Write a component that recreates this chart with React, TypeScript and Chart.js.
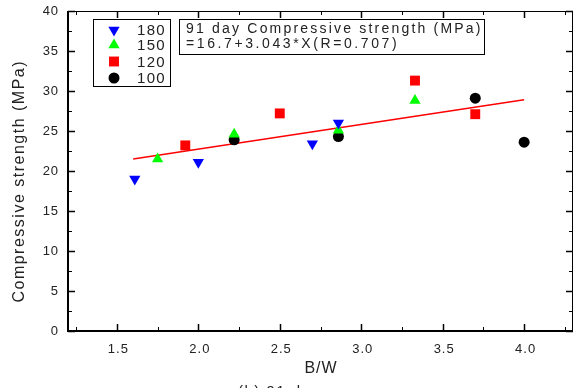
import React, { useEffect, useRef } from "react";
import { Chart, registerables } from "chart.js";

Chart.register(...registerables);

const xTicks = [1.5, 2.0, 2.5, 3.0, 3.5, 4.0];
const yTicks = [0, 5, 10, 15, 20, 25, 30, 35, 40];

const s180x = [1.61, 2.0, 2.7, 2.86];
const s180y = [19.0, 21.1, 23.4, 26.0];
const s150x = [1.75, 2.22, 2.86, 3.33];
const s150y = [21.5, 24.6, 25.1, 28.8];
const s120x = [1.92, 2.5, 3.33, 3.7];
const s120y = [23.2, 27.2, 31.3, 27.1];
const s100x = [2.22, 2.86, 3.7, 4.0];
const s100y = [23.9, 24.3, 29.1, 23.6];
const fitX = [1.6, 4.0];
const fitY = [21.5, 28.9];

const seriesNames = ["180", "150", "120", "100"];
const boxLines = ["91 day Compressive strength (MPa)", "=16.7+3.043*X(R=0.707)"];
const xTitle = "B/W";
const yTitle = "Compressive strength (MPa)";
const caption = "(b) 91 day";

const FONT = "'Liberation Sans', Arial, sans-serif";
const TXT = "#222";

function pts(xs: number[], ys: number[]) {
  return xs.map((x, i) => ({ x, y: ys[i] }));
}

function drawMarker(ctx: CanvasRenderingContext2D, style: string, rot: number, r: number, x: number, y: number, color: string) {
  ctx.save();
  ctx.fillStyle = color;
  ctx.beginPath();
  if (style === "triangle") {
    const inv = rot === 180 ? -1 : 1;
    ctx.moveTo(x, y - inv * r);
    ctx.lineTo(x - r * 0.866, y + inv * r * 0.5);
    ctx.lineTo(x + r * 0.866, y + inv * r * 0.5);
    ctx.closePath();
  } else if (style === "rect") {
    const s = r * Math.SQRT1_2;
    ctx.rect(x - s, y - s, 2 * s, 2 * s);
  } else {
    ctx.arc(x, y, r, 0, Math.PI * 2);
  }
  ctx.fill();
  ctx.restore();
}

function spacedText(ctx: CanvasRenderingContext2D, text: string, x: number, y: number, spacing: number, align: "left" | "right" | "center") {
  (ctx as any).letterSpacing = spacing + "px";
  const w = ctx.measureText(text).width - spacing;
  let x0 = x;
  if (align === "right") x0 = x - w;
  else if (align === "center") x0 = x - w / 2;
  ctx.textAlign = "left";
  ctx.fillText(text, x0, y);
  (ctx as any).letterSpacing = "0px";
}

const decorPlugin = {
  id: "decor",
  afterDraw(chart: any) {
    const ctx: CanvasRenderingContext2D = chart.ctx;
    const { left, right, top, bottom } = chart.chartArea;
    const xs = chart.scales.x;
    const ys = chart.scales.y;
    ctx.save();
    ctx.strokeStyle = "#000";
    // frame
    ctx.lineWidth = 1;
    ctx.beginPath();
    ctx.moveTo(left, top + 0.5);
    ctx.lineTo(right - 0.5, top + 0.5);
    ctx.lineTo(right - 0.5, bottom);
    ctx.stroke();
    ctx.lineWidth = 2;
    ctx.beginPath();
    ctx.moveTo(left, top);
    ctx.lineTo(left, bottom);
    ctx.lineTo(right, bottom);
    ctx.stroke();
    // y ticks
    for (let v = 0; v <= 40.001; v += 2.5) {
      const y = Math.round(ys.getPixelForValue(v)) + 0.5;
      const major = Math.abs(v / 5 - Math.round(v / 5)) < 1e-6;
      const len = major ? 7 : 4;
      ctx.lineWidth = major ? 1.5 : 1;
      ctx.beginPath();
      ctx.moveTo(left, y);
      ctx.lineTo(left + len, y);
      ctx.moveTo(right, y);
      ctx.lineTo(right - len, y);
      ctx.stroke();
    }
    // x ticks
    for (let v = 1.25; v <= 4.3; v += 0.25) {
      const x = Math.round(xs.getPixelForValue(v)) + 0.5;
      const major = Math.abs(v / 0.5 - Math.round(v / 0.5)) < 1e-6;
      const len = major ? 7 : 4;
      ctx.lineWidth = major ? 1.5 : 1;
      ctx.beginPath();
      ctx.moveTo(x, bottom);
      ctx.lineTo(x, bottom - len);
      ctx.moveTo(x, top);
      ctx.lineTo(x, top + len);
      ctx.stroke();
    }
    // tick labels
    ctx.fillStyle = TXT;
    ctx.font = `13px ${FONT}`;
    ctx.textBaseline = "middle";
    yTicks.forEach((v) => {
      spacedText(ctx, String(v), left - 10, ys.getPixelForValue(v), 0.8, "right");
    });
    xTicks.forEach((v) => {
      spacedText(ctx, v.toFixed(1), xs.getPixelForValue(v) + 1, bottom + 18, 1, "center");
    });
    // axis titles
    ctx.font = `16px ${FONT}`;
    spacedText(ctx, xTitle, (left + right) / 2, 369, 1, "center");
    ctx.save();
    ctx.translate(20, 182);
    ctx.rotate(-Math.PI / 2);
    spacedText(ctx, yTitle, 0, 0, 1.5, "center");
    ctx.restore();
    // legend box
    ctx.lineWidth = 1;
    ctx.strokeRect(93.5, 19.5, 77, 67);
    const rows = [30, 45, 61.5, 78];
    ctx.font = `15px ${FONT}`;
    ctx.textBaseline = "middle";
    for (let i = 0; i < 4; i++) {
      const ds = chart.data.datasets[i];
      drawMarker(ctx, ds.pointStyle, ds.pointRotation || 0, ds.pointRadius, 114, rows[i], ds.backgroundColor);
      ctx.fillStyle = TXT;
      spacedText(ctx, seriesNames[i], 137, rows[i] + 1, 1.3, "left");
    }
    // text box
    ctx.strokeRect(179.5, 19.5, 305, 35);
    ctx.font = `14px ${FONT}`;
    spacedText(ctx, boxLines[0], 186, 29.5, 2.2, "left");
    spacedText(ctx, boxLines[1], 186, 44.5, 2.6, "left");
    // caption (clipped at bottom)
    ctx.textBaseline = "top";
    ctx.font = `15px ${FONT}`;
    spacedText(ctx, caption, 238, 384, 1.5, "left");
    ctx.restore();
  },
};

export default function App() {
  const ref = useRef<HTMLCanvasElement | null>(null);
  useEffect(() => {
    if (!ref.current) return;
    const chart = new Chart(ref.current, {
      type: "scatter",
      data: {
        datasets: [
          { label: seriesNames[0], data: pts(s180x, s180y), pointStyle: "triangle", pointRotation: 180, pointRadius: 6.5, backgroundColor: "#0000ff", borderWidth: 0 } as any,
          { label: seriesNames[1], data: pts(s150x, s150y), pointStyle: "triangle", pointRadius: 6.5, backgroundColor: "#00ff00", borderWidth: 0 } as any,
          { label: seriesNames[2], data: pts(s120x, s120y), pointStyle: "rect", pointRadius: 7, backgroundColor: "#ff0000", borderWidth: 0 } as any,
          { label: seriesNames[3], data: pts(s100x, s100y), pointStyle: "circle", pointRadius: 5.5, backgroundColor: "#000000", borderWidth: 0 } as any,
          { type: "line", label: "fit", data: pts(fitX, fitY), borderColor: "#ff0000", borderWidth: 1.5, pointRadius: 0, showLine: true, fill: false } as any,
        ],
      },
      options: {
        responsive: false,
        animation: false,
        layout: { autoPadding: false, padding: { left: 0, right: 2, top: 11, bottom: 0 } },
        plugins: { legend: { display: false }, tooltip: { enabled: false } },
        scales: {
          x: {
            type: "linear",
            min: 1.2,
            max: 4.3,
            grid: { display: false },
            border: { display: false },
            afterBuildTicks: (s: any) => { s.ticks = xTicks.map((v) => ({ value: v })); },
            afterFit: (s: any) => { s.height = 57; },
            ticks: { display: false },
            title: { display: false },
          },
          y: {
            type: "linear",
            min: 0,
            max: 40,
            grid: { display: false },
            border: { display: false },
            afterBuildTicks: (s: any) => { s.ticks = yTicks.map((v) => ({ value: v })); },
            afterFit: (s: any) => { s.width = 68; },
            ticks: { display: false },
            title: { display: false },
          },
        },
      },
      plugins: [decorPlugin],
    });
    return () => chart.destroy();
  }, []);
  return (
    <div style={{ position: "absolute", left: 0, top: 0, width: 575, height: 388, background: "#fff" }}>
      <canvas ref={ref} width={575} height={388} style={{ display: "block" }} />
    </div>
  );
}
